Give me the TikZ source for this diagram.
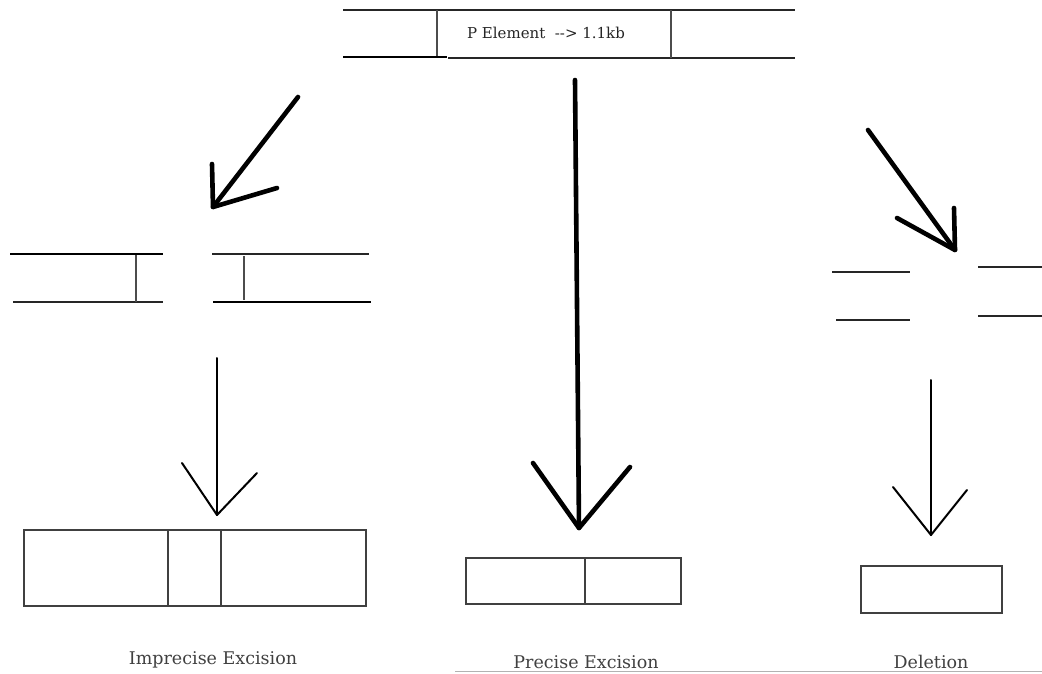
\documentclass[tikz,border=0pt]{standalone}
\usepackage{fontspec}
\setmainfont{DejaVu Serif}
\begin{document}
\begin{tikzpicture}[x=1pt,y=-1pt,
  strand/.style={line width=1.2pt,black!85},
  dna/.style={line width=1.7pt,black},
  bar/.style={line width=1.3pt,black!70},
  boxline/.style={line width=1.3pt,black!75},
  thick arrow/.style={line width=4.6pt,black,line cap=round,line join=round},
  thin arrow/.style={line width=2pt,black,line cap=round,line join=round},
  label/.style={font=\fontsize{17.5}{20}\selectfont,text=black!75,inner sep=0pt}]
\useasboundingbox (0,0) rectangle (1042,674);

% ---- donor strand carrying the P element ----
\draw[strand] (343,10) -- (795,10);
\draw[dna] (343,57) -- (447,57);
\draw[strand] (448,58) -- (795,58);
\draw[bar] (437,10) -- (437,56);
\draw[bar] (671,10) -- (671,58);
\node[font=\fontsize{15}{17}\selectfont,text=black!85,inner sep=0pt] (pel) at (546,33) {P Element\ \ {-}{-}{>}\ 1.1kb};

% ---- broken strand after imprecise excision ----
\draw[dna] (10,254) -- (163,254);
\draw[strand] (13,302) -- (163,302);
\draw[bar] (136,255) -- (136,302);
\draw[strand] (212,254) -- (369,254);
\draw[dna] (213,302) -- (371,302);
\draw[bar] (244,256) -- (244,300);

% ---- broken strand leading to deletion ----
\draw[strand] (832,272) -- (910,272);
\draw[strand] (836,320) -- (910,320);
\draw[strand] (978,267) -- (1042,267);
\draw[strand] (978,316) -- (1042,316);

% ---- arrow end points ----
\coordinate (cTail) at (575,80);
\coordinate (cTip) at (579,528);
\coordinate (cArmL) at (533,463);
\coordinate (cArmR) at (630,467);

\coordinate (lTail) at (298,97);
\coordinate (lTip) at (213,207);
\coordinate (lArmA) at (212,164);
\coordinate (lArmB) at (277,188);

\coordinate (rTail) at (868,130);
\coordinate (rTip) at (955,250);
\coordinate (rArmA) at (954,208);
\coordinate (rArmB) at (897,218);

\coordinate (lvTail) at (217,358);
\coordinate (lvTip) at (217,515);
\coordinate (lvArmL) at (182,463);
\coordinate (lvArmR) at (257,473);

\coordinate (rvTail) at (931,380);
\coordinate (rvTip) at (931,535);
\coordinate (rvArmL) at (893,487);
\coordinate (rvArmR) at (967,490);

% ---- arrows ----
\draw[thick arrow] (cTail) -- (cTip);
\draw[thick arrow] (cArmL) -- (cTip) -- (cArmR);
\draw[thick arrow] (lTail) -- (lTip);
\draw[thick arrow] (lArmA) -- (lTip) -- (lArmB);
\draw[thick arrow] (rTail) -- (rTip);
\draw[thick arrow] (rArmA) -- (rTip) -- (rArmB);
\draw[thin arrow] (lvTail) -- (lvTip);
\draw[thin arrow] (lvArmL) -- (lvTip) -- (lvArmR);
\draw[thin arrow] (rvTail) -- (rvTip);
\draw[thin arrow] (rvArmL) -- (rvTip) -- (rvArmR);

% ---- resulting strands ----
\draw[boxline] (24,530) rectangle (366,606);
\draw[boxline] (168,530) -- (168,606);
\draw[boxline] (221,530) -- (221,606);
\draw[boxline] (466,558) rectangle (681,604);
\draw[boxline] (585,558) -- (585,604);
\draw[boxline] (861,566) rectangle (1002,613);

% ---- labels ----
\node[label] (imp) at (213,660) {Imprecise Excision};
\node[label] (pre) at (586,662) {Precise Excision};
\node[label] (del) at (931,662) {Deletion};
\coordinate (ruleA) at (455,671);
\coordinate (ruleB) at (1042,671);
\draw[black!30,line width=0.8pt] (ruleA) -- (ruleB);
\end{tikzpicture}
\end{document}
